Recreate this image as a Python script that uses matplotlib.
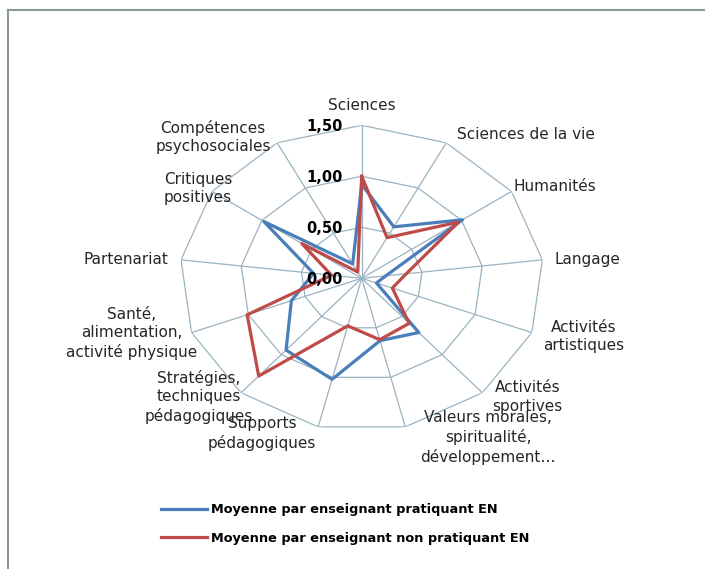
import numpy as np
import matplotlib.pyplot as plt
from matplotlib.lines import Line2D

# Données
categories = [
    "Sciences", "Sciences de la vie", "Humanités", "Langage",
    "Activités\nartistiques", "Activités\nsportives",
    "Valeurs morales,\nspiritualité,\ndéveloppement…",
    "Supports\npédagogiques", "Stratégies,\ntechniques\npédagogiques",
    "Santé,\nalimentation,\nactivité physique", "Partenariat",
    "Critiques\npositives", "Compétences\npsychosociales",
]
pratiquant = [0.92, 0.57, 1.01, 0.20, 0.13, 0.71, 0.63, 1.02, 0.94, 0.62, 0.40, 0.98, 0.16]
non_pratiquant = [1.00, 0.45, 0.97, 0.37, 0.27, 0.59, 0.62, 0.48, 1.28, 1.01, 0.25, 0.60, 0.07]
graduations = [0.0, 0.5, 1.0, 1.5]
etiquettes_grad = ["0,00", "0,50", "1,00", "1,50"]
legende = ["Moyenne par enseignant pratiquant EN",
           "Moyenne par enseignant non pratiquant EN"]

# décalage (pixels) du centre de chaque étiquette par rapport au sommet extérieur
decalages = [(0, 20), (80, 8), (43, 5), (45, 0), (52, -4), (45, -4), (83, -11),
             (-56, -7), (-42, -4), (-60, -1), (-55, 0), (-14, 3), (-64, 6)]

couleur_grille = '#9ab3c2'
bleu = '#4a7ebb'
rouge = '#be4b48'

n = len(categories)
angles = np.linspace(0, 2 * np.pi, n, endpoint=False)
angles_f = np.append(angles, angles[0])

fig = plt.figure(figsize=(7.05, 5.69), dpi=100)
ax = fig.add_axes([0.2549, 0.2420, 0.5163, 0.5378], projection='polar')
ax.set_aspect('auto')
ax.set_theta_zero_location('N')
ax.set_theta_direction(-1)
ax.set_ylim(0, 1.5)
ax.grid(False)
ax.spines['polar'].set_visible(False)
ax.set_xticks([])
ax.set_yticks([])
ax.patch.set_alpha(0)

# grille polygonale façon Excel
for g in graduations[1:]:
    ax.plot(angles_f, [g] * (n + 1), color=couleur_grille, lw=0.9, zorder=1)
for a in angles:
    ax.plot([a, a], [0, 1.5], color=couleur_grille, lw=0.9, zorder=1)

l1, = ax.plot(angles_f, pratiquant + pratiquant[:1], color=bleu, lw=2.3, zorder=3)
l2, = ax.plot(angles_f, non_pratiquant + non_pratiquant[:1], color=rouge, lw=2.3, zorder=4)

for g, t in zip(graduations, etiquettes_grad):
    ax.annotate(t, xy=(0, g), xytext=(-19, -1), textcoords='offset pixels',
                ha='right', va='center', fontsize=10.5, fontweight='bold',
                color='black', zorder=5, annotation_clip=False)

for a, lab, (dx, dy) in zip(angles, categories, decalages):
    ax.annotate(lab, xy=(a, 1.5), xytext=(dx, dy), textcoords='offset pixels',
                ha='center', va='center', multialignment='center',
                fontsize=11, linespacing=1.3, color='#262626',
                annotation_clip=False)

fig.legend([l1, l2], legende, loc='upper left', bbox_to_anchor=(0.2115, 0.136),
           frameon=False, prop={'size': 9.3, 'weight': 'bold'},
           handlelength=3.6, handletextpad=0.3, labelspacing=1.2)

# cadre (bords haut et gauche visibles)
fig.add_artist(Line2D([7.5 / 705, 7.5 / 705], [0, 1 - 9.5 / 569],
                      transform=fig.transFigure, color='#8a979c', lw=1.5))
fig.add_artist(Line2D([7.5 / 705, 1], [1 - 9.5 / 569, 1 - 9.5 / 569],
                      transform=fig.transFigure, color='#8a979c', lw=1.5))

fig.savefig('out.png', dpi=100)
